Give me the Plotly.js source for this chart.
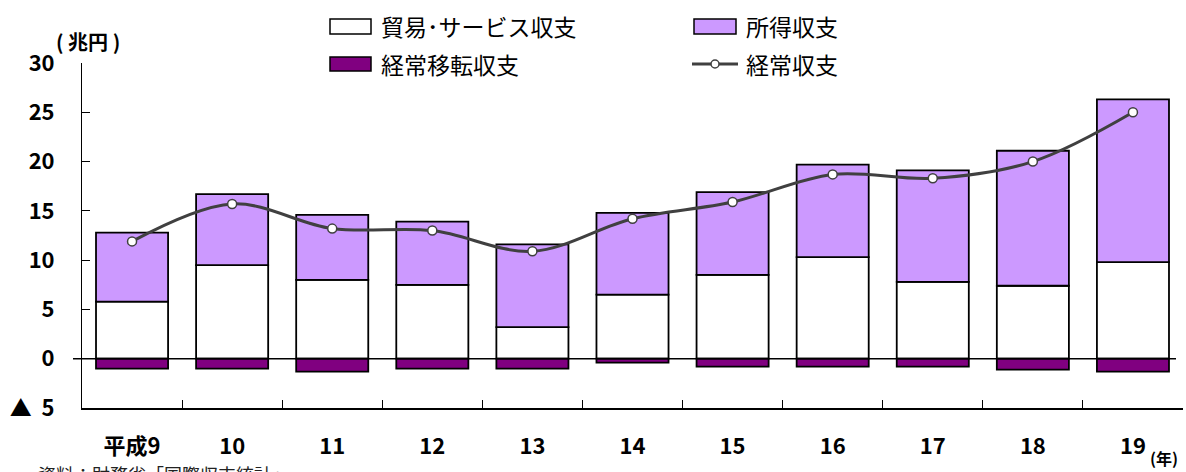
<!DOCTYPE html>
<html>
<head>
<meta charset="utf-8">
<script src="https://cdn.plot.ly/plotly-3.0.1.min.js"></script>
<style>
  body { margin: 0; background: #fff; }
  #chart { width: 1186px; height: 472px; }
</style>
</head>
<body>
<div id="chart"></div>
<script>
var years = ['平成9', '10', '11', '12', '13', '14', '15', '16', '17', '18', '19'];
var tradeServices = [5.8, 9.5, 8.0, 7.5, 3.2, 6.5, 8.5, 10.3, 7.8, 7.4, 9.8];
var income = [7.0, 7.2, 6.6, 6.4, 8.4, 8.3, 8.4, 9.4, 11.3, 13.7, 16.5];
var transfers = [-1.0, -1.0, -1.3, -1.0, -1.0, -0.4, -0.8, -0.8, -0.8, -1.1, -1.3];
var currentAccount = [11.9, 15.7, 13.2, 13.0, 10.9, 14.2, 15.9, 18.7, 18.3, 20.0, 25.0];
var yTickVals = [30, 25, 20, 15, 10, 5, 0, -5];
var yTickText = ['30', '25', '20', '15', '10', '5', '0', '▲\u00a0\u00a05'];

var font = '"Noto Sans CJK JP", "Noto Sans", sans-serif';
var outline = { color: '#000', width: 1.8 };

var data = [
    { x: years, y: tradeServices, name: '貿易･サービス収支', type: 'bar',
      marker: { color: '#ffffff', line: outline } },
    { x: years, y: income, name: '所得収支', type: 'bar',
      marker: { color: '#cc99ff', line: outline } },
    { x: years, y: transfers, name: '経常移転収支', type: 'bar',
      marker: { color: '#800080', line: outline } },
    { x: years, y: currentAccount, name: '経常収支', type: 'scatter', mode: 'lines+markers',
      line: { color: '#404040', width: 3, shape: 'spline', smoothing: 1 },
      marker: { color: '#ffffff', size: 9, line: { color: '#404040', width: 1.5 } } }
];

// pixel -> paper helpers for the hand-made legend
function px(x) { return (x - 82) / 1101; }
function py(y) { return (408 - y) / 345; }

var shapes = [
    // zero line sticks out a little left of the y axis
    { type: 'line', xref: 'paper', yref: 'y', x0: px(73), x1: px(1176), y0: 0, y1: 0,
      line: { color: '#000', width: 1.5 } },
    { type: 'rect', xref: 'paper', yref: 'paper', x0: px(330), x1: px(371), y0: py(34), y1: py(19),
      fillcolor: '#ffffff', line: { color: '#000', width: 1.5 } },
    { type: 'rect', xref: 'paper', yref: 'paper', x0: px(330), x1: px(371), y0: py(71), y1: py(57),
      fillcolor: '#800080', line: { color: '#000', width: 1.5 } },
    { type: 'rect', xref: 'paper', yref: 'paper', x0: px(694), x1: px(736), y0: py(34), y1: py(19),
      fillcolor: '#cc99ff', line: { color: '#000', width: 1.5 } },
    { type: 'line', xref: 'paper', yref: 'paper', x0: px(692), x1: px(738), y0: py(64), y1: py(64),
      line: { color: '#404040', width: 3 } },
    { type: 'circle', xref: 'paper', yref: 'paper', x0: px(711), x1: px(719), y0: py(68), y1: py(60),
      fillcolor: '#ffffff', line: { color: '#404040', width: 1.5 } }
];

var legendFont = { family: font, size: 23, color: '#000' };
var annotations = [
    { text: '貿易･サービス収支', xref: 'paper', yref: 'paper', x: px(379), y: py(26),
      xanchor: 'left', yanchor: 'middle', showarrow: false, font: legendFont },
    { text: '経常移転収支', xref: 'paper', yref: 'paper', x: px(379), y: py(64),
      xanchor: 'left', yanchor: 'middle', showarrow: false, font: legendFont },
    { text: '所得収支', xref: 'paper', yref: 'paper', x: px(744), y: py(26),
      xanchor: 'left', yanchor: 'middle', showarrow: false, font: legendFont },
    { text: '経常収支', xref: 'paper', yref: 'paper', x: px(744), y: py(64),
      xanchor: 'left', yanchor: 'middle', showarrow: false, font: legendFont },
    { text: '<b>( 兆円 )</b>', xref: 'paper', yref: 'paper', x: px(88), y: py(42),
      xanchor: 'center', yanchor: 'middle', showarrow: false, font: { family: font, size: 20, color: '#000' } },
    { text: '<b>(年)</b>', xref: 'paper', yref: 'paper', x: px(1164), y: py(458),
      xanchor: 'center', yanchor: 'middle', showarrow: false, font: { family: font, size: 16, color: '#000' } },
    { text: '資料：財務省「国際収支統計」', xref: 'paper', yref: 'paper', x: px(36), y: py(474),
      xanchor: 'left', yanchor: 'middle', showarrow: false, font: { family: font, size: 18, color: '#222' } }
];

var layout = {
    width: 1186,
    height: 472,
    margin: { l: 82, r: 3, t: 63, b: 64 },
    paper_bgcolor: '#ffffff',
    plot_bgcolor: '#ffffff',
    barmode: 'relative',
    bargap: 0.28,
    showlegend: false,
    hovermode: false,
    font: { family: font, color: '#000' },
    xaxis: {
        type: 'category',
        range: [-0.5, 10.5],
        showline: true, linecolor: '#000', linewidth: 1.5,
        ticks: 'inside', tickson: 'boundaries', ticklen: 8, tickcolor: '#000', tickwidth: 1,
        showgrid: false,
        tickfont: { family: font, size: 22, color: '#000', weight: 'bold' },
        ticklabelstandoff: 18
    },
    yaxis: {
        range: [-5, 30],
        tickvals: yTickVals,
        ticktext: yTickText,
        showline: true, linecolor: '#000', linewidth: 1,
        ticks: 'inside', ticklen: 8, tickcolor: '#000',
        showgrid: false,
        zeroline: false,
        tickfont: { family: font, size: 22, color: '#000', weight: 'bold' },
        ticklabelstandoff: 22
    },
    shapes: shapes,
    annotations: annotations
};

Plotly.newPlot('chart', data, layout, { displayModeBar: false, staticPlot: true });
</script>
</body>
</html>
